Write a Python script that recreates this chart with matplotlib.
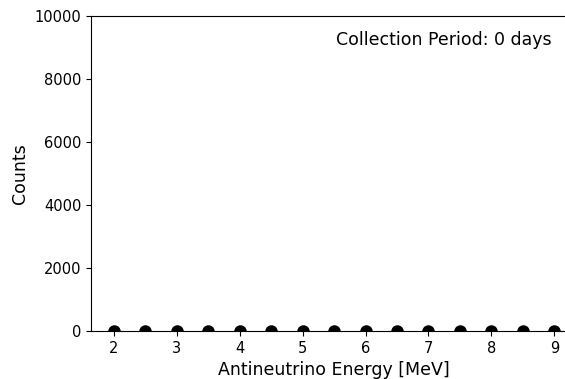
import matplotlib
matplotlib.use("Agg")
import matplotlib.pyplot as plt
from matplotlib.path import Path

# antineutrino spectrum sampled every 0.5 MeV, nothing collected yet
energy = [2.0, 2.5, 3.0, 3.5, 4.0, 4.5, 5.0, 5.5, 6.0, 6.5, 7.0, 7.5, 8.0, 8.5, 9.0]
counts = [0, 0, 0, 0, 0, 0, 0, 0, 0, 0, 0, 0, 0, 0, 0]
days = 0

#points sit on y=0, so only their upper halves show inside the axes.
#use an upper half-disc marker, the clip at the spine is not reliable here
arc = Path.arc(0, 180)
half_disc = Path(list(arc.vertices) + [(1.0, 0.0)],
                 list(arc.codes) + [Path.CLOSEPOLY])

fig = plt.figure(figsize=(5.65, 3.79), dpi=100)
ax = fig.add_axes([91 / 565, 48 / 379, 1 - 91 / 565 + 0.02, 315 / 379])

ax.plot(energy, counts, ls="none", marker=half_disc, ms=9,
        mfc="black", mec="black", mew=0, zorder=3, clip_on=False)
ax.set_xlim(1.635, 9.35)
ax.set_ylim(0, 10000)
ax.set_xticks([2, 3, 4, 5, 6, 7, 8, 9])
ax.set_yticks([0, 2000, 4000, 6000, 8000, 10000])
ax.spines["right"].set_visible(False)
ax.tick_params(labelsize=10.5)
ax.set_xlabel("Antineutrino Energy [MeV]", fontsize=12.5)
ax.set_ylabel("Counts", fontsize=12.5)
ax.text(552 / 565, 1 - 40 / 379, f"Collection Period: {days} days",
        transform=fig.transFigure, ha="right", va="center", fontsize=12.5)

fig.savefig("out.png", dpi=100)
